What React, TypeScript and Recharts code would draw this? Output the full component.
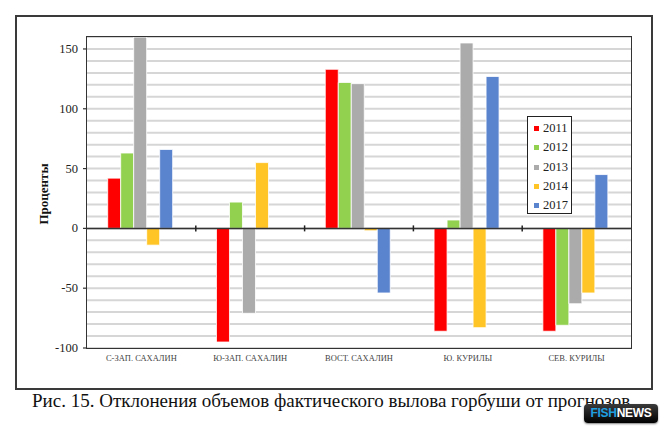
import { Bar, BarChart, CartesianGrid, ReferenceLine, XAxis, YAxis } from "recharts";

const regions = ["С-ЗАП. САХАЛИН", "Ю-ЗАП. САХАЛИН", "ВОСТ. САХАЛИН", "Ю. КУРИЛЫ", "СЕВ. КУРИЛЫ"];

const v2011 = [42, -95, 133, -86, -86];
const v2012 = [63, 22, 122, 7, -81];
const v2013 = [160, -71, 121, 155, -63];
const v2014 = [-14, 55, -2, -83, -54];
const v2017 = [66, null, -54, 127, 45];

const yTicks = [-100, -90, -80, -70, -60, -50, -40, -30, -20, -10, 0, 10, 20, 30, 40, 50, 60, 70, 80, 90, 100, 110, 120, 130, 140, 150, 160];

const series = [
  { key: "y2011", name: "2011", values: v2011, color: "#ff0000" },
  { key: "y2012", name: "2012", values: v2012, color: "#92d050" },
  { key: "y2013", name: "2013", values: v2013, color: "#ababab" },
  { key: "y2014", name: "2014", values: v2014, color: "#ffc426" },
  { key: "y2017", name: "2017", values: v2017, color: "#5b84cf" },
];

const rows = regions.map((region, i) => {
  const row: Record<string, string | number | null> = { region };
  series.forEach((s) => {
    row[s.key] = s.values[i];
  });
  return row;
});

// plot box inside the 668x433 picture
const W = 668;
const H = 433;
const PLOT_LEFT = 87;
const PLOT_TOP = 37;
const PLOT_RIGHT = 631;
const PLOT_BOTTOM = 348;
const Y_MIN = -100;
const Y_MAX = 160;
const ZERO_Y = PLOT_TOP + ((Y_MAX - 0) / (Y_MAX - Y_MIN)) * (PLOT_BOTTOM - PLOT_TOP);
const BAND = (PLOT_RIGHT - PLOT_LEFT) / regions.length;

const serif = '"Liberation Serif", "Times New Roman", serif';

function YTick(props: any) {
  const { y, payload } = props;
  if (payload.value % 50 !== 0) return null;
  return (
    <g>
      <line x1={PLOT_LEFT - 4} x2={PLOT_LEFT} y1={y} y2={y} stroke="#333" strokeWidth={1.2} />
      <text x={PLOT_LEFT - 9} y={y} dy={4} textAnchor="end" fontSize={12.5} fontFamily={serif} fill="#222">
        {payload.value}
      </text>
    </g>
  );
}

function XTick(props: any) {
  const { x, payload, index } = props;
  return (
    <g>
      {index < regions.length - 1 && (
        <line x1={x + BAND / 2} x2={x + BAND / 2} y1={ZERO_Y - 3} y2={ZERO_Y + 3} stroke="#222" strokeWidth={1.5} />
      )}
      <text x={x} y={361} textAnchor="middle" fontSize={8.5} fontFamily={serif} fill="#444">
        {payload.value}
      </text>
    </g>
  );
}

function AxisTitle() {
  return (
    <text
      x={48}
      y={194}
      transform="rotate(-90 48 194)"
      textAnchor="middle"
      fontSize={13}
      fontWeight="bold"
      fontFamily={serif}
      fill="#111"
    >
      Проценты
    </text>
  );
}

export default function App() {
  return (
    <div style={{ position: "absolute", left: 0, top: 0, width: W, height: H, background: "#fff", overflow: "hidden" }}>
      <div
        style={{
          position: "absolute",
          left: 15,
          top: 15,
          width: 634,
          height: 371,
          border: "2px solid #3a3a3a",
        }}
      />
      <div style={{ position: "absolute", left: 0, top: 0 }}>
        <BarChart
          width={W}
          height={H}
          data={rows}
          margin={{ top: PLOT_TOP, right: W - PLOT_RIGHT, bottom: H - PLOT_BOTTOM - 30, left: PLOT_LEFT - 40 }}
          barCategoryGap="19%"
          barGap={0}
        >
          <CartesianGrid vertical={false} stroke="#d6d6d6" strokeWidth={2} />
          <XAxis dataKey="region" height={30} axisLine={false} tickLine={false} tick={<XTick />} interval={0} />
          <YAxis
            width={40}
            domain={[Y_MIN, Y_MAX]}
            ticks={yTicks}
            interval={0}
            axisLine={false}
            tickLine={false}
            tick={<YTick />}
            allowDataOverflow
            label={<AxisTitle />}
          />
          <ReferenceLine y={0} stroke="#333" strokeWidth={1.5} />
          {series.map((s) => (
            <Bar key={s.key} dataKey={s.key} name={s.name} fill={s.color} stroke="#ffffff" strokeWidth={0.8} isAnimationActive={false} />
          ))}
        </BarChart>
      </div>
      <div
        style={{
          position: "absolute",
          left: PLOT_LEFT - 1,
          top: PLOT_TOP - 1,
          width: PLOT_RIGHT - PLOT_LEFT,
          height: PLOT_BOTTOM - PLOT_TOP,
          border: "1.5px solid #333",
          pointerEvents: "none",
        }}
      />
      <div
        style={{
          position: "absolute",
          left: 527,
          top: 116,
          width: 43,
          height: 94,
          border: "1.5px solid #222",
          background: "#fff",
          fontFamily: serif,
          fontSize: 12.5,
          color: "#222",
          paddingTop: 2,
        }}
      >
        {series.map((s) => (
          <div key={s.key} style={{ display: "flex", alignItems: "center", height: 19.3, paddingLeft: 6 }}>
            <span style={{ display: "inline-block", width: 5, height: 5, background: s.color, marginRight: 4 }} />
            {s.name}
          </div>
        ))}
      </div>
      <div
        style={{
          position: "absolute",
          left: 32,
          top: 390,
          fontFamily: serif,
          fontSize: 19,
          color: "#111",
          whiteSpace: "nowrap",
        }}
      >
        Рис. 15. Отклонения объемов фактического вылова горбуши от прогнозов
      </div>
      <div
        style={{
          position: "absolute",
          left: 584,
          top: 404,
          width: 74,
          height: 19,
          borderRadius: 4,
          background: "linear-gradient(#3a3a3a, #000)",
          boxShadow: "0 1px 2px rgba(0,0,0,0.5)",
          fontFamily: "Arial, 'Liberation Sans', sans-serif",
          fontWeight: "bold",
          fontSize: 12,
          lineHeight: "19px",
          textAlign: "center",
          letterSpacing: -0.3,
        }}
      >
        <span style={{ color: "#1e9fe0" }}>FISH</span>
        <span style={{ color: "#fff" }}>NEWS</span>
      </div>
    </div>
  );
}
